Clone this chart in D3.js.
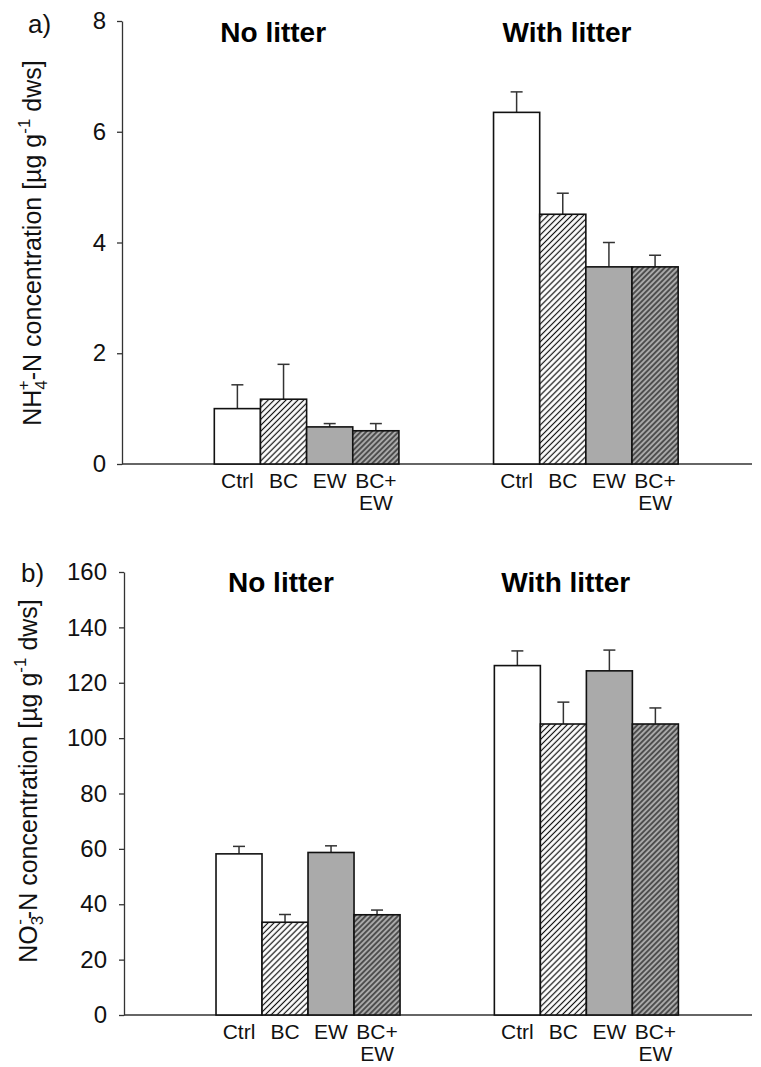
<!DOCTYPE html>
<html>
<head>
<meta charset="utf-8">
<script src="https://cdn.jsdelivr.net/npm/d3@7"></script>
<style>
  html, body { margin: 0; padding: 0; background: #fff; }
  svg { display: block; font-family: Arial, "Liberation Sans", sans-serif; }
</style>
</head>
<body>
<svg id="chart" width="761" height="1067"></svg>
<script>
// Treatments and litter groups
const treatments = ["Ctrl", "BC", "EW", "BC+EW"];
const treatmentLines = [["Ctrl"], ["BC"], ["EW"], ["BC+", "EW"]];
const groups = ["No litter", "With litter"];

// a) NH4+-N concentration (µg g-1 dws): means and upper error
const nh4NoLitter = [1.00, 1.17, 0.67, 0.60];
const nh4NoLitterErr = [0.43, 0.63, 0.06, 0.13];
const nh4WithLitter = [6.35, 4.51, 3.56, 3.56];
const nh4WithLitterErr = [0.37, 0.38, 0.44, 0.21];
const nh4Ticks = [0, 2, 4, 6, 8];

// b) NO3--N concentration (µg g-1 dws): means and upper error
const no3NoLitter = [58.2, 33.5, 58.7, 36.2];
const no3NoLitterErr = [2.7, 2.8, 2.4, 1.7];
const no3WithLitter = [126.2, 105.1, 124.3, 105.1];
const no3WithLitterErr = [5.3, 7.9, 7.5, 5.8];
const no3Ticks = [0, 20, 40, 60, 80, 100, 120, 140, 160];

// slot position where each group's first bar starts (in bar widths)
const groupStart = [2, 8.05];
const slotMax = 13.65;

const svg = d3.select("#chart");
const defs = svg.append("defs");

function hatch(id, bg, spacing, width) {
  const p = defs.append("pattern")
    .attr("id", id)
    .attr("patternUnits", "userSpaceOnUse")
    .attr("width", spacing)
    .attr("height", spacing)
    .attr("patternTransform", "rotate(45)");
  p.append("rect").attr("width", spacing).attr("height", spacing).attr("fill", bg);
  p.append("line")
    .attr("x1", spacing / 2).attr("x2", spacing / 2)
    .attr("y1", 0).attr("y2", spacing)
    .attr("stroke", "#111").attr("stroke-width", width);
}
hatch("hatchWhite", "#ffffff", 4.2, 1.2);
hatch("hatchGray", "#a9a9a9", 3.8, 1.15);

const fills = ["#ffffff", "url(#hatchWhite)", "#aaaaaa", "url(#hatchGray)"];

function panel(cfg) {
  const g = svg.append("g");
  const x = d3.scaleLinear().domain([0, slotMax]).range([cfg.left, cfg.right]);
  const y = d3.scaleLinear().domain([0, cfg.yMax]).range([cfg.bottom, cfg.top]);

  // y axis
  const ya = g.append("g")
    .attr("transform", `translate(${cfg.left},0)`)
    .call(d3.axisLeft(y).tickValues(cfg.ticks).tickSize(5).tickSizeOuter(0).tickPadding(cfg.tickPad));
  ya.selectAll("text").attr("font-size", 24).attr("fill", "#111")
    .attr("font-family", "Arial, 'Liberation Sans', sans-serif");
  ya.selectAll("line, path").attr("stroke", "#333").attr("stroke-width", 1.3);

  // x axis baseline
  g.append("line")
    .attr("x1", x(0)).attr("x2", x(slotMax))
    .attr("y1", y(0)).attr("y2", y(0))
    .attr("stroke", "#333").attr("stroke-width", 1.5);

  const series = [
    { values: cfg.noLitter, err: cfg.noLitterErr, start: groupStart[0] },
    { values: cfg.withLitter, err: cfg.withLitterErr, start: groupStart[1] }
  ];

  series.forEach((s, gi) => {
    const data = treatments.map((t, i) => ({ t, i, v: s.values[i], e: s.err[i], x0: s.start + i }));
    const bg = g.append("g");

    // error bars (drawn first so the bar outline sits on top)
    const eb = bg.selectAll("g.err").data(data).join("g").attr("class", "err");
    eb.append("line")
      .attr("x1", d => x(d.x0 + 0.5)).attr("x2", d => x(d.x0 + 0.5))
      .attr("y1", d => y(d.v)).attr("y2", d => y(d.v + d.e))
      .attr("stroke", "#333").attr("stroke-width", 1.5);
    eb.append("line")
      .attr("x1", d => x(d.x0 + 0.5) - 6).attr("x2", d => x(d.x0 + 0.5) + 6)
      .attr("y1", d => y(d.v + d.e)).attr("y2", d => y(d.v + d.e))
      .attr("stroke", "#333").attr("stroke-width", 1.5);

    bg.selectAll("rect.bar").data(data).join("rect").attr("class", "bar")
      .attr("x", d => x(d.x0))
      .attr("width", d => x(d.x0 + 1) - x(d.x0))
      .attr("y", d => y(d.v))
      .attr("height", d => y(0) - y(d.v))
      .attr("fill", d => fills[d.i])
      .attr("stroke", "#111").attr("stroke-width", 1.6);

    // category labels
    data.forEach(d => {
      treatmentLines[d.i].forEach((line, li) => {
        g.append("text")
          .attr("x", x(d.x0 + 0.5))
          .attr("y", y(0) + 24 + li * 22)
          .attr("text-anchor", "middle")
          .attr("font-size", 21)
          .attr("fill", "#111")
          .text(line);
      });
    });

    // group title
    g.append("text")
      .attr("x", x(s.start) + cfg.titleDx[gi])
      .attr("y", cfg.titleY)
      .attr("font-size", 28)
      .attr("font-weight", "bold")
      .attr("fill", "#000")
      .text(groups[gi]);
  });

  // panel letter
  g.append("text")
    .attr("x", cfg.letterX).attr("y", cfg.letterY)
    .attr("font-size", 26).attr("fill", "#111")
    .text(cfg.letter);

  // rotated y-axis title with sub/superscripts
  const yt = g.append("text")
    .attr("transform", `translate(${cfg.labelX},${cfg.labelY}) rotate(-90)`)
    .attr("text-anchor", "middle")
    .attr("font-size", 25)
    .attr("fill", "#111");
  cfg.label(yt);
}

panel({
  left: 122, right: 752, top: 21, bottom: 464, yMax: 8, ticks: nh4Ticks, tickPad: 11,
  noLitter: nh4NoLitter, noLitterErr: nh4NoLitterErr,
  withLitter: nh4WithLitter, withLitterErr: nh4WithLitterErr,
  titleY: 42, titleDx: [6, 9],
  letter: "a)", letterX: 28, letterY: 33, labelX: 41, labelY: 243,
  label: t => {
    t.append("tspan").text("NH");
    t.append("tspan").attr("font-size", 17).attr("dy", 6).text("4");
    t.append("tspan").attr("font-size", 17).attr("dx", -10).attr("dy", -18).text("+");
    t.append("tspan").attr("dy", 12).text("-N concentration [µg g");
    t.append("tspan").attr("font-size", 17).attr("dy", -11).text("-1");
    t.append("tspan").attr("dy", 11).text(" dws]");
  }
});

panel({
  left: 124, right: 752, top: 572, bottom: 1015, yMax: 160, ticks: no3Ticks, tickPad: 12,
  noLitter: no3NoLitter, noLitterErr: no3NoLitterErr,
  withLitter: no3WithLitter, withLitterErr: no3WithLitterErr,
  titleY: 592, titleDx: [12, 7],
  letter: "b)", letterX: 21, letterY: 582, labelX: 37, labelY: 781,
  label: t => {
    t.append("tspan").text("NO");
    t.append("tspan").attr("font-size", 17).attr("dy", 6).text("3");
    t.append("tspan").attr("font-size", 17).attr("dx", -9).attr("dy", -18).text("-");
    t.append("tspan").attr("dy", 12).text("-N concentration [µg g");
    t.append("tspan").attr("font-size", 17).attr("dy", -11).text("-1");
    t.append("tspan").attr("dy", 11).text(" dws]");
  }
});
</script>
</body>
</html>
